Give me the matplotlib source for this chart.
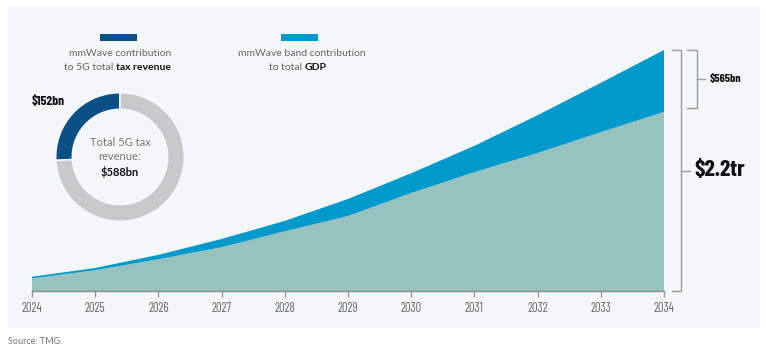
import matplotlib.pyplot as plt
from matplotlib.patches import Rectangle
import numpy as np

## ------------ data -----------
years = [2024, 2025, 2026, 2027, 2028, 2029, 2030, 2031, 2032, 2033, 2034]
gdp_total = [130, 210, 330, 475, 640, 840, 1075, 1325, 1605, 1900, 2200]   # $bn, top of stack
gdp_base = [115, 190, 290, 400, 545, 685, 895, 1085, 1260, 1450, 1635]     # $bn, teal layer
gdp_mmwave = [t - b for t, b in zip(gdp_total, gdp_base)]                  # blue band

tax_mmwave = 152
tax_total = 588
tax_rest = tax_total - tax_mmwave

## ------------ styles -----------
teal = '#96c2bf'
blue = '#0099cc'
dark_blue = '#0b4f87'
ring_grey = '#c9c9c9'
panel = '#f4f7f9'
line_grey = '#9a9a9a'
cond = ['Barlow Condensed', 'DejaVu Sans']
body = ['Lato', 'DejaVu Sans']

W, H = 766, 353
fig = plt.figure(figsize=(W / 100, H / 100), dpi=100)
fig.patch.set_facecolor('white')

def fx(px):
    return px / W

def fy(py):
    return 1 - py / H

# background panel
fig.patches.append(Rectangle((fx(8), fy(328)), fx(760) - fx(8), fy(7) - fy(328),
                             transform=fig.transFigure, facecolor=panel,
                             edgecolor='none', zorder=-5))

## ------------ area chart -----------
ax = fig.add_axes([fx(32), fy(291), fx(664) - fx(32), fy(50) - fy(291)])
ax.set_facecolor('none')
ax.stackplot(years, gdp_base, gdp_mmwave, colors=[teal, blue], linewidth=0)
ax.set_xlim(years[0], years[-1])
ax.set_ylim(0, gdp_total[-1])
for s in ['top', 'right', 'left']:
    ax.spines[s].set_visible(False)
ax.spines['bottom'].set_color('#8a8a8a')
ax.spines['bottom'].set_linewidth(1)
ax.set_yticks([])
ax.set_xticks(years)
ax.set_xticklabels([str(y) for y in years], family=cond, fontsize=9, color='#666666')
ax.tick_params(axis='x', length=4, width=1, color='#9a9a9a', pad=4)

# brackets on the right (x in years, y in data)
yr_px = (years[-1] - years[0]) / (664 - 32)
def bx(px):
    return years[-1] + (px - 664) * yr_px

kw = dict(color=line_grey, lw=1, clip_on=False)
# big bracket: whole 2034 value
ax.plot([bx(672), bx(681), bx(681), bx(672)], [gdp_total[-1], gdp_total[-1], 2, 2], **kw)
ymid = gdp_total[-1] / 2
ax.plot([bx(681), bx(690)], [ymid, ymid], **kw)
ax.text(bx(694), ymid, '$2.2tr', family=cond, fontsize=17, fontweight='bold',
        color='#111111', va='center', ha='left')
# small bracket: mmWave band 2034
ax.plot([bx(687), bx(697), bx(697), bx(687)],
        [gdp_total[-1], gdp_total[-1], gdp_base[-1] + 40, gdp_base[-1] + 40], **kw)
ysm = (gdp_total[-1] + gdp_base[-1] + 40) / 2
ax.plot([bx(697), bx(705)], [ysm, ysm], **kw)
ax.text(bx(710), ysm, '$565bn', family=cond, fontsize=8.5, fontweight='bold',
        color='#111111', va='center', ha='left')

## ------------ donut -----------
dax = fig.add_axes([fx(55), fy(222), fx(185) - fx(55), fy(92) - fy(222)])
dax.pie([tax_mmwave, tax_rest], colors=[dark_blue, ring_grey], startangle=90,
        counterclock=True, wedgeprops=dict(width=0.26, edgecolor=panel, linewidth=1.2))
dax.set_xlim(-1.01, 1.01)
dax.set_ylim(-1.01, 1.01)
dax.set_aspect('equal')
dax.text(0, 0.22, 'Total 5G tax', ha='center', va='center', family=body,
         fontsize=8, color='#777777')
dax.text(0, 0.0, 'revenue:', ha='center', va='center', family=body,
         fontsize=8, color='#777777')
dax.text(0, -0.23, '$588bn', ha='center', va='center', family=body,
         fontsize=8, fontweight='bold', color='#111111')
fig.text(fx(48), fy(101), '$152bn', ha='center', va='center', family=cond,
         fontsize=9.5, fontweight='bold', color='#111111')

## ------------ legend -----------
fig.patches.append(Rectangle((fx(100), fy(41)), fx(37), fy(34) - fy(41),
                             transform=fig.transFigure, facecolor=dark_blue, edgecolor='none'))
fig.patches.append(Rectangle((fx(281), fy(41)), fx(37), fy(34) - fy(41),
                             transform=fig.transFigure, facecolor=blue, edgecolor='none'))
lk = dict(family=body, fontsize=7.5, color='#666666', va='center')
fig.text(fx(120), fy(54), 'mmWave contribution', ha='center', **lk)
fig.text(fx(116), fy(68), 'to 5G total ', ha='right', **lk)
fig.text(fx(116), fy(68), 'tax revenue', ha='left', family=body, fontsize=7.5,
         fontweight='bold', color='#111111', va='center')
fig.text(fx(302), fy(54), 'mmWave band contribution', ha='center', **lk)
fig.text(fx(305), fy(68), 'to total ', ha='right', **lk)
fig.text(fx(305), fy(68), 'GDP', ha='left', family=body, fontsize=7.5,
         fontweight='bold', color='#111111', va='center')

fig.text(fx(8), fy(342), 'Source: TMG.', ha='left', va='center', family=body,
         fontsize=6.5, color='#777777')

fig.savefig('out.png', dpi=100, facecolor='white')
